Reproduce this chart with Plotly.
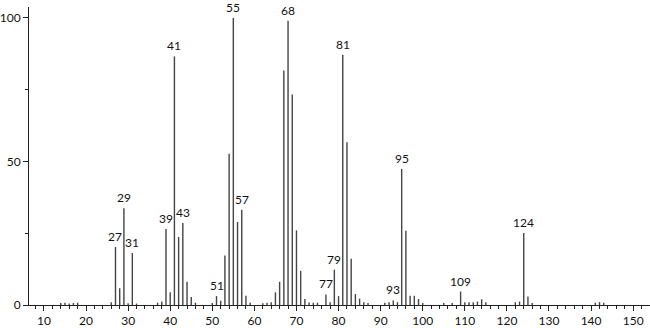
import plotly.graph_objects as go

# m/z values and relative intensities
mz = [14, 15, 16, 17, 18, 26, 27, 28, 29, 30, 31, 32, 37, 38, 39, 40, 41, 42, 43, 44, 45, 46,
      50, 51, 52, 53, 54, 55, 56, 57, 58, 59, 62, 63, 64, 65, 66, 67, 68, 69, 70, 71, 72, 73, 74, 75,
      77, 78, 79, 80, 81, 82, 83, 84, 85, 86, 87, 91, 92, 93, 94, 95, 96, 97, 98, 99, 100,
      105, 107, 109, 110, 111, 112, 113, 114, 115, 122, 123, 124, 125, 126, 141, 142, 143]
intensity = [0.7, 0.8, 0.5, 0.7, 0.8, 1.0, 20.2, 5.8, 33.7, 0.6, 18.1, 0.5, 0.8, 1.2, 26.5, 4.4, 86.6, 23.7, 28.6, 8.1, 2.8, 0.8,
             0.7, 3.1, 1.5, 17.2, 52.7, 100.0, 28.9, 33.2, 3.2, 0.8, 0.6, 0.8, 1.0, 4.4, 8.1, 81.7, 99.0, 73.3, 26.0, 11.9, 2.1, 0.9, 0.8, 0.8,
             3.7, 1.0, 12.3, 3.1, 87.2, 56.7, 16.1, 3.8, 2.2, 1.0, 0.7, 0.8, 1.0, 1.6, 1.0, 47.4, 25.9, 3.2, 3.2, 2.1, 0.7,
             0.7, 0.7, 4.7, 1.0, 1.0, 1.0, 1.2, 2.0, 1.0, 1.0, 1.2, 25.1, 3.0, 0.7, 0.8, 1.0, 0.8]

labelled = [27, 29, 31, 39, 41, 43, 51, 55, 57, 68, 77, 79, 81, 93, 95, 109, 124]

x_ticks = list(range(10, 151, 10))
y_ticks = [0, 50, 100]

xs, ys = [], []
for m, v in zip(mz, intensity):
    xs += [m, m, None]
    ys += [0, v, None]

fig = go.Figure()
fig.add_trace(go.Scatter(x=xs, y=ys, mode="lines",
                         line=dict(color="#444444", width=1.4),
                         hoverinfo="skip", showlegend=False))

lookup = dict(zip(mz, intensity))
for m in labelled:
    fig.add_annotation(x=m, y=lookup[m], text=str(m), showarrow=False,
                       yanchor="bottom", yshift=1,
                       font=dict(family="Lato, DejaVu Sans", size=12, color="#111"))

fig.update_layout(
    width=650, height=328,
    margin=dict(l=27, r=0, t=7, b=23),
    plot_bgcolor="white", paper_bgcolor="white",
    font=dict(family="Lato, DejaVu Sans", size=12, color="#111"),
    xaxis=dict(range=[6.45, 154.0], tickvals=x_ticks, ticks="outside", ticklen=5,
               tickcolor="#222", showgrid=False, zeroline=False,
               showline=True, linecolor="#222", linewidth=1,
               minor=dict(dtick=2, tick0=0, ticks="outside", ticklen=3, tickcolor="#222"),
               tickfont=dict(size=12)),
    yaxis=dict(range=[0, 103.8], tickvals=y_ticks, ticks="outside", ticklen=5,
               tickcolor="#222", showgrid=False, zeroline=False,
               showline=True, linecolor="#222", linewidth=1,
               minor=dict(tickvals=[25, 75], ticks="outside", ticklen=3, tickcolor="#222"),
               tickfont=dict(size=12)),
)

fig.write_html("out.html")
